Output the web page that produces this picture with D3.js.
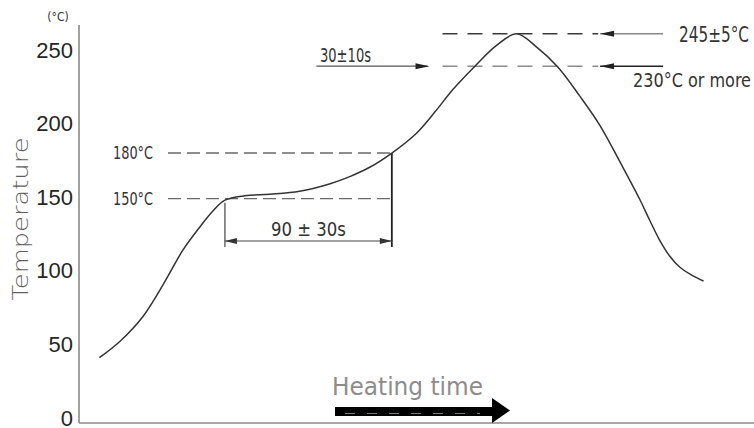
<!DOCTYPE html>
<html>
<head>
<meta charset="utf-8">
<script src="https://cdn.jsdelivr.net/npm/d3@7/dist/d3.min.js"></script>
<style>
  html, body { margin: 0; padding: 0; background: #fff; }
  svg { display: block; }
  .cad { font-family: "Liberation Sans Narrow", "DejaVu Sans Condensed", sans-serif; fill: #333; }
</style>
</head>
<body>
<svg id="chart" width="754" height="428"></svg>
<script>
// reflow profile (time in s, temperature in axis units)
var timeSec = [11, 22, 34.5, 46, 56, 65.2, 72.2, 78.7, 89.5, 103, 119, 135, 146, 157, 168.7,
               182, 192, 201.5, 213.5, 225, 236, 246.8, 258.2, 270, 280.8, 292.6, 302.3,
               307.7, 313.1, 318.5, 323.9, 330.4, 336.8];
var tempC = [41, 52, 69, 92, 114, 129.8, 140.6, 148, 151, 152, 154, 159, 164, 170.5, 180,
             193.5, 208, 223, 239, 253, 261, 252, 238.5, 218.8, 199, 171.9, 148.8,
             134.5, 120.9, 110.1, 102.6, 97.1, 93.1];

var yTicks = [0, 50, 100, 150, 200, 250];

// annotation levels as drawn (axis units) and their captions
var soakLevels = [149, 180],
    soakLabels = ["150°C", "180°C"];
var peakLevels = [239, 261],
    peakLabels = ["230°C or more", "245±5°C"];
var soakWindow = [78.7, 168.7],   // 90 s
    soakText = "90 ± 30s";
var reflowText = "30±10s";

var svg = d3.select("#chart");

var x = d3.scaleLinear().domain([0, 364]).range([79, 754]);
var y = d3.scaleLinear().domain([0, 250]).range([418, 50]);

var axisColor = "#8a8a8a",
    ink = "#333";

// axes lines (drawn as in the original: long vertical, baseline under 0)
svg.append("line")
    .attr("x1", 79).attr("x2", 79).attr("y1", 25).attr("y2", 423)
    .attr("stroke", axisColor).attr("stroke-width", 1.6);
svg.append("line")
    .attr("x1", 79).attr("x2", 754).attr("y1", 423).attr("y2", 423)
    .attr("stroke", axisColor).attr("stroke-width", 1.6);

var yAxis = d3.axisLeft(y)
    .tickValues(yTicks)
    .tickSize(0)
    .tickPadding(6);

var gy = svg.append("g")
    .attr("transform", "translate(79,0)")
    .call(yAxis);
gy.select(".domain").remove();
gy.selectAll("text")
    .attr("font-family", "Liberation Sans, Arial, sans-serif")
    .attr("font-size", 22)
    .attr("fill", "#262626");

svg.append("text")
    .attr("x", 58).attr("y", 21)
    .attr("text-anchor", "middle")
    .attr("font-family", "DejaVu Sans Condensed, sans-serif")
    .attr("font-size", 12)
    .attr("fill", "#333")
    .text("(°C)");

svg.append("text")
    .attr("transform", "translate(28,219) rotate(-90)")
    .attr("text-anchor", "middle")
    .attr("font-family", "DejaVu Sans, sans-serif")
    .attr("font-weight", 300)
    .attr("font-size", 22)
    .attr("fill", "#5e5e5e")
    .attr("textLength", 163)
    .attr("lengthAdjust", "spacingAndGlyphs")
    .text("Temperature");

// helper: little filled arrow head, tip at (tx, ty), dir = 1 points right, -1 left
function arrowHead(tx, ty, dir, color, len, half) {
  len = len || 13; half = half || 3;
  svg.append("path")
      .attr("d", "M" + tx + "," + ty +
                 "L" + (tx - dir * len) + "," + (ty - half) +
                 "L" + (tx - dir * len) + "," + (ty + half) + "Z")
      .attr("fill", color);
}

// soak levels
soakLevels.forEach(function(v, i) {
  svg.append("line")
      .attr("x1", x(48)).attr("x2", x(soakWindow[1]))
      .attr("y1", y(v)).attr("y2", y(v))
      .attr("stroke", "#6a6a6a").attr("stroke-width", 1.4)
      .attr("stroke-dasharray", "13,6");
  svg.append("text")
      .attr("class", "cad")
      .attr("x", 133).attr("y", y(v) + 6)
      .attr("text-anchor", "middle")
      .attr("font-size", 17)
      .attr("textLength", 40)
      .attr("lengthAdjust", "spacingAndGlyphs")
      .text(soakLabels[i]);
});

// soak window verticals and dimension
svg.append("line")
    .attr("x1", x(soakWindow[0])).attr("x2", x(soakWindow[0]))
    .attr("y1", y(soakLevels[0]) + 4).attr("y2", 247)
    .attr("stroke", "#444").attr("stroke-width", 1.2);
svg.append("line")
    .attr("x1", x(soakWindow[1])).attr("x2", x(soakWindow[1]))
    .attr("y1", y(soakLevels[1])).attr("y2", 247)
    .attr("stroke", "#222").attr("stroke-width", 1.8);
svg.append("line")
    .attr("x1", x(soakWindow[0])).attr("x2", x(soakWindow[1]))
    .attr("y1", 241).attr("y2", 241)
    .attr("stroke", "#444").attr("stroke-width", 1.2);
arrowHead(x(soakWindow[0]), 241, -1, "#333", 12, 3);
arrowHead(x(soakWindow[1]), 241, 1, "#333", 12, 3);
svg.append("text")
    .attr("class", "cad")
    .attr("x", (x(soakWindow[0]) + x(soakWindow[1])) / 2).attr("y", 236)
    .attr("text-anchor", "middle")
    .attr("font-size", 19)
    .attr("textLength", 75)
    .attr("lengthAdjust", "spacingAndGlyphs")
    .text(soakText);

// peak levels
var peakColors = ["#8a8a8a", "#3a3a3a"];
peakLevels.forEach(function(v, i) {
  svg.append("line")
      .attr("x1", x(196)).attr("x2", x(280))
      .attr("y1", y(v)).attr("y2", y(v))
      .attr("stroke", peakColors[i]).attr("stroke-width", 1.6)
      .attr("stroke-dasharray", "15,10");
  svg.append("line")
      .attr("x1", x(281)).attr("x2", x(315))
      .attr("y1", y(v)).attr("y2", y(v))
      .attr("stroke", i === 0 ? "#222" : "#888").attr("stroke-width", 1.4);
  arrowHead(x(281), y(v), -1, "#222", 14, 3);
});
svg.append("text")
    .attr("class", "cad")
    .attr("x", 679).attr("y", y(peakLevels[1]) + 8)
    .attr("font-size", 21)
    .attr("textLength", 70)
    .attr("lengthAdjust", "spacingAndGlyphs")
    .text(peakLabels[1]);
svg.append("text")
    .attr("class", "cad")
    .attr("x", 633).attr("y", y(peakLevels[0]) + 21)
    .attr("font-size", 20)
    .attr("textLength", 118)
    .attr("lengthAdjust", "spacingAndGlyphs")
    .text(peakLabels[0]);

// 30±10s arrow
svg.append("line")
    .attr("x1", x(128)).attr("x2", x(188))
    .attr("y1", y(peakLevels[0])).attr("y2", y(peakLevels[0]))
    .attr("stroke", "#555").attr("stroke-width", 1.3);
arrowHead(x(189), y(peakLevels[0]), 1, "#222", 14, 3);
svg.append("text")
    .attr("class", "cad")
    .attr("x", 320).attr("y", y(peakLevels[0]) - 4)
    .attr("font-size", 19)
    .attr("textLength", 51)
    .attr("lengthAdjust", "spacingAndGlyphs")
    .text(reflowText);

// profile curve
var line = d3.line()
    .x(function(d) { return x(d[0]); })
    .y(function(d) { return y(d[1]); })
    .curve(d3.curveCatmullRom.alpha(0.5));

svg.append("path")
    .datum(timeSec.map(function(t, i) { return [t, tempC[i]]; }))
    .attr("d", line)
    .attr("fill", "none")
    .attr("stroke", ink)
    .attr("stroke-width", 1.5);

// heating time arrow
svg.append("text")
    .attr("x", 332).attr("y", 395)
    .attr("font-family", "DejaVu Sans, sans-serif")
    .attr("font-size", 24)
    .attr("fill", "#8c8c8c")
    .attr("textLength", 151)
    .attr("lengthAdjust", "spacingAndGlyphs")
    .text("Heating time");

svg.append("path")
    .attr("d", "M335,407 L492,407 L492,398 L510,410.5 L492,423 L492,416 L335,416 Z")
    .attr("fill", "#000");
svg.append("line")
    .attr("x1", 345).attr("x2", 480).attr("y1", 413.5).attr("y2", 413.5)
    .attr("stroke", "#777").attr("stroke-width", 1)
    .attr("stroke-dasharray", "10,12");
</script>
</body>
</html>
